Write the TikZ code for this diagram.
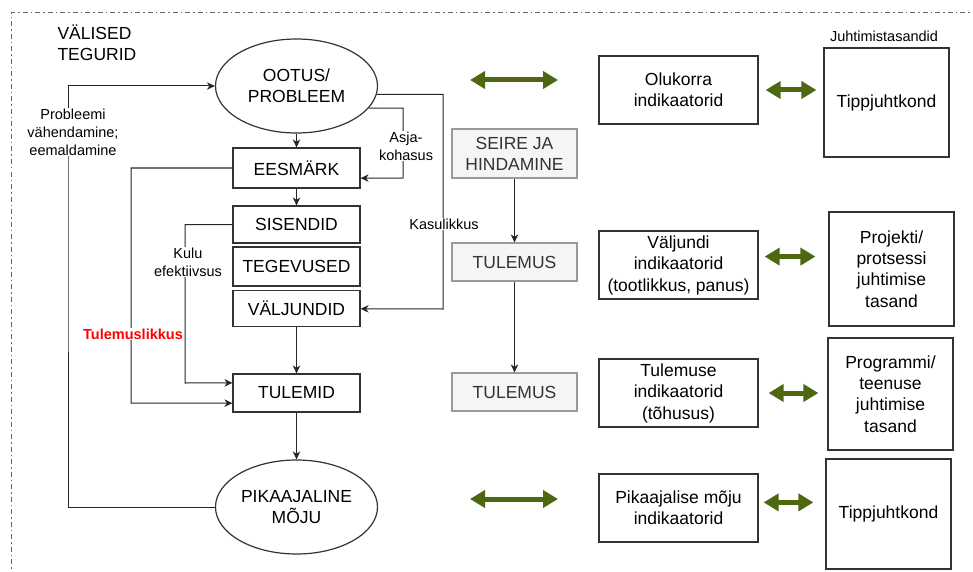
\documentclass[tikz,border=0pt]{standalone}
\usepackage{fontspec}
\setmainfont{Liberation Sans}
\usetikzlibrary{shapes.geometric,arrows.meta}
\definecolor{leaf}{RGB}{78,104,18}
\definecolor{seiregrey}{RGB}{245,245,245}
\newcommand\bigtxt{\fontsize{17.5}{21}\selectfont}
\newcommand\smalltxt{\fontsize{14.5}{18}\selectfont}
\tikzset{
  box/.style={draw=black!80, line width=1.2pt, minimum width=127pt, align=center, inner sep=0pt, font=\bigtxt},
  blob/.style={ellipse, draw=black!80, line width=1.2pt, minimum width=162pt, minimum height=94pt, align=center, inner sep=0pt, font=\bigtxt},
  greybox/.style={draw=black!40, fill=seiregrey, text=black!80, line width=1.2pt, minimum width=125pt, align=center, inner sep=0pt, font=\bigtxt},
  indbox/.style={box, minimum width=159pt, minimum height=68pt},
  levelbox/.style={box, minimum width=125pt},
  lbl/.style={fill=white, align=center, inner sep=1pt, font=\smalltxt},
  link/.style={-{Stealth[length=8pt,width=7.5pt,inset=2.5pt]}, line width=1pt, black!85},
  twoway/.style={{Triangle[length=15pt,width=17pt]}-{Triangle[length=15pt,width=17pt]}, line width=5pt, leaf},
}
\begin{document}
\begin{tikzpicture}[x=1pt,y=-1pt]
    \useasboundingbox (0,0) rectangle (973,572);
    \draw[black!60, line width=1pt, dash pattern=on 5pt off 3pt on 1.5pt off 3pt] (990,13) -- (11,13) -- (11,590);

    \node[anchor=west, align=left, font=\bigtxt] (valised) at (54,43) {VÄLISED\\TEGURID};
%    left column
    \node[blob] (ootus) at (296.5,86) {OOTUS/\\PROBLEEM};
    \node[box, minimum height=40pt] (eesmark)   at (296.5,168)   {EESMÄRK};
    \node[box, minimum height=37pt] (sisendid)  at (296.5,224.5) {SISENDID};
    \node[box, minimum height=39pt] (tegevused) at (296.5,266.5) {TEGEVUSED};
    \node[box, minimum height=36pt] (valjundid) at (296.5,308.7) {VÄLJUNDID};
    \node[box, minimum height=38pt] (tulemid)   at (296.5,393)   {TULEMID};
    \node[blob] (moju) at (296.5,507) {PIKAAJALINE\\MÕJU};

    \draw[link] (ootus)     to (eesmark);
    \draw[link] (eesmark)   to (sisendid);
    \draw[link] (valjundid) to (tulemid);
    \draw[link] (tulemid)   to (moju);
    \draw[link] (moju.west) -| (68,200) |- (ootus.west);
    \draw[link] (ootus.-17) -| (403,178) -- (eesmark.-9);
    \draw[link] (ootus.-6)  -| (443,309) -- (valjundid);
    \draw[link] (sisendid.west) -| (185,383) -- (tulemid.171);
    \draw[link] (eesmark.west)  -| (131,403) -- (tulemid.189);

    \node[lbl] (vahend) at (73,132)  {Probleemi\\vähendamine;\\eemaldamine};
    \node[lbl] (asja)   at (406,146) {Asja-\\kohasus};
    \node[lbl] (kasu)   at (444,224) {Kasulikkus};
    \node[lbl] (kulu)   at (188,262) {Kulu\\efektiivsus};
    \node[lbl, text=red, font=\smalltxt\bfseries] (tulemusl) at (133,334) {Tulemuslikkus};

%    middle column
    \node[greybox, minimum height=49pt] (seire)    at (514.5,153.5) {SEIRE JA\\HINDAMINE};
    \node[greybox, minimum height=38pt] (tulemus1) at (514.5,262)   {TULEMUS};
    \node[greybox, minimum height=38pt] (tulemus2) at (514.5,392)   {TULEMUS};
    \draw[link] (seire)    to (tulemus1);
    \draw[link] (tulemus1) to (tulemus2);

    \coordinate (topl) at (470,80);
    \coordinate (topr) at (558,80);
    \coordinate (botl) at (470,499);
    \coordinate (botr) at (558,499);
    \draw[twoway] (topl) -- (topr);
    \draw[twoway] (botl) -- (botr);

%    indicators and levels
    \node[indbox] (olukorra)    at (678.5,90)  {Olukorra\\indikaatorid};
    \node[indbox, font=\fontsize{17.5}{21.5}\selectfont] (valjundi) at (678.5,265) {Väljundi\\indikaatorid\\(tootlikkus, panus)};
    \node[indbox, font=\fontsize{17.5}{21.5}\selectfont] (tulemuse) at (678.5,393) {Tulemuse\\indikaatorid\\(tõhusus)};
    \node[indbox] (pikaajalise) at (678.5,508) {Pikaajalise mõju\\indikaatorid};

    \node[font=\smalltxt] (tasandid) at (884,36) {Juhtimistasandid};
    \node[levelbox, minimum height=109pt] (tipp1)     at (886.5,102.5) {Tippjuhtkond};
    \node[levelbox, minimum height=114pt, font=\fontsize{17.5}{21.3}\selectfont] (projekti)  at (891.5,269) {Projekti/\\protsessi\\juhtimise\\tasand};
    \node[levelbox, minimum height=112pt, font=\fontsize{17.5}{21.3}\selectfont] (programmi) at (890.5,394) {Programmi/\\teenuse\\juhtimise\\tasand};
    \node[levelbox, minimum height=110pt] (tipp2)     at (888.5,514) {Tippjuhtkond};

    \draw[twoway, shorten <=7pt, shorten >=7pt]  (olukorra.east)    -- (olukorra.east -| tipp1.west);
    \draw[twoway, shorten <=6pt, shorten >=13pt] (valjundi.6)       -- (valjundi.6 -| projekti.west);
    \draw[twoway, shorten <=10pt, shorten >=9pt] (tulemuse.east)    -- (tulemuse.east -| programmi.west);
    \draw[twoway, shorten <=5pt, shorten >=12pt] (pikaajalise.4)    -- (pikaajalise.4 -| tipp2.west);
\end{tikzpicture}
\end{document}
